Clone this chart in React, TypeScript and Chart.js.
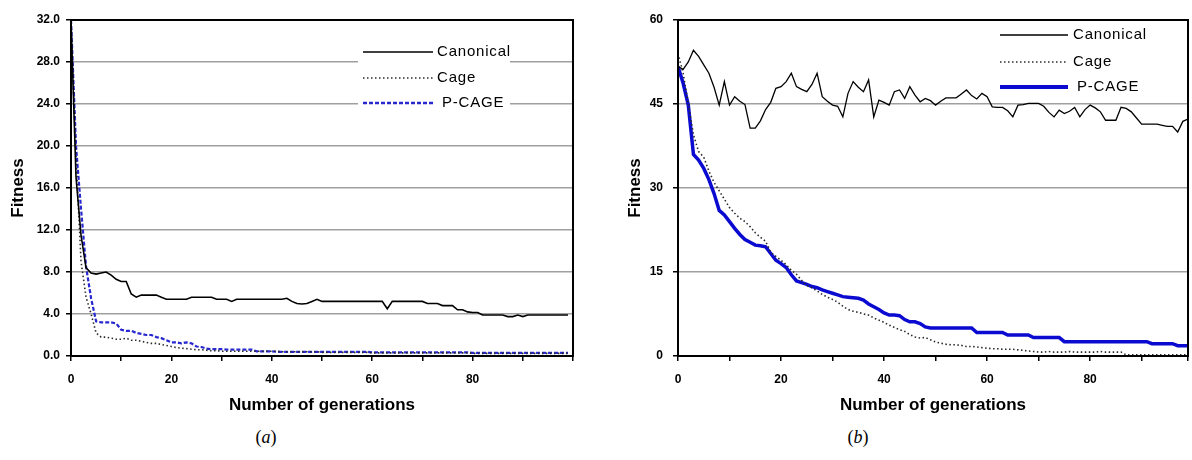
import React, { useEffect, useRef } from 'react';
import { Chart, registerables } from 'chart.js';

Chart.register(...registerables);

// ---------- data ----------
const generations = Array.from({ length: 100 }, (_, i) => i);
const seriesNames = ['Canonical', 'Cage', 'P-CAGE'];
const xTickLabels = [0, 20, 40, 60, 80];

// (a)
const yTicksA = [0, 4, 8, 12, 16, 20, 24, 28, 32];
const canonicalA = [
  32, 17, 11.5, 8.4, 7.9, 7.8, 7.9, 8.0, 7.7, 7.3,
  7.1, 7.1, 5.9, 5.6, 5.8, 5.8, 5.8, 5.8, 5.6, 5.4,
  5.4, 5.4, 5.4, 5.4, 5.6, 5.6, 5.6, 5.6, 5.6, 5.4,
  5.4, 5.4, 5.2, 5.4, 5.4, 5.4, 5.4, 5.4, 5.4, 5.4,
  5.4, 5.4, 5.4, 5.5, 5.2, 5.0, 4.95, 5.0, 5.2, 5.4,
  5.2, 5.2, 5.2, 5.2, 5.2, 5.2, 5.2, 5.2, 5.2, 5.2,
  5.2, 5.2, 5.2, 4.5, 5.2, 5.2, 5.2, 5.2, 5.2, 5.2,
  5.2, 5.0, 5.0, 5.0, 4.8, 4.8, 4.8, 4.4, 4.4, 4.2,
  4.15, 4.15, 3.9, 3.9, 3.9, 3.9, 3.9, 3.75, 3.75, 3.9,
  3.75, 3.9, 3.9, 3.9, 3.9, 3.9, 3.9, 3.9, 3.9, 3.9,
];
const cageA = [
  32, 19, 9.0, 5.6, 4.0, 2.2, 1.8, 1.8, 1.7, 1.6,
  1.6, 1.7, 1.5, 1.5, 1.4, 1.3, 1.2, 1.2, 1.1, 1.0,
  0.9, 0.8, 0.75, 0.7, 0.65, 0.6, 0.6, 0.55, 0.5, 0.5,
  0.45, 0.45, 0.45, 0.45, 0.45, 0.45, 0.45, 0.45, 0.45, 0.45,
  0.45, 0.45, 0.4, 0.4, 0.4, 0.4, 0.4, 0.4, 0.4, 0.4,
  0.35, 0.35, 0.35, 0.35, 0.35, 0.35, 0.35, 0.35, 0.35, 0.35,
  0.3, 0.3, 0.3, 0.3, 0.3, 0.3, 0.3, 0.3, 0.3, 0.3,
  0.3, 0.3, 0.3, 0.3, 0.3, 0.3, 0.3, 0.3, 0.3, 0.3,
  0.25, 0.25, 0.25, 0.25, 0.25, 0.25, 0.25, 0.25, 0.25, 0.25,
  0.25, 0.25, 0.25, 0.25, 0.25, 0.25, 0.25, 0.25, 0.25, 0.25,
];
const pcageA = [
  32, 20, 14, 8.5, 5.5, 3.3, 3.2, 3.2, 3.2, 3.1,
  2.5, 2.4, 2.4, 2.2, 2.1, 2.0, 2.0, 1.8, 1.7, 1.5,
  1.3, 1.3, 1.2, 1.3, 1.2, 0.9, 0.85, 0.7, 0.65, 0.65,
  0.65, 0.6, 0.6, 0.6, 0.6, 0.6, 0.6, 0.45, 0.45, 0.45,
  0.45, 0.4, 0.4, 0.4, 0.4, 0.4, 0.4, 0.4, 0.4, 0.4,
  0.4, 0.4, 0.4, 0.4, 0.4, 0.4, 0.4, 0.4, 0.4, 0.4,
  0.35, 0.35, 0.35, 0.35, 0.35, 0.35, 0.35, 0.35, 0.35, 0.35,
  0.35, 0.35, 0.35, 0.35, 0.35, 0.35, 0.35, 0.35, 0.35, 0.35,
  0.3, 0.3, 0.3, 0.3, 0.3, 0.3, 0.3, 0.3, 0.3, 0.3,
  0.3, 0.3, 0.3, 0.3, 0.3, 0.3, 0.3, 0.3, 0.3, 0.3,
];

// (b)
const yTicksB = [0, 15, 30, 45, 60];
const canonicalB = [
  51.7, 51.2, 52.5, 54.6, 53.5, 52.0, 50.5, 48.0, 44.8, 49.0,
  44.8, 46.3, 45.5, 44.9, 40.7, 40.7, 42.0, 44.0, 45.3, 47.8,
  48.1, 49.0, 50.5, 48.1, 47.6, 47.2, 48.5, 50.5, 46.3, 45.5,
  44.8, 44.6, 42.7, 46.9, 49.0, 48.0, 47.2, 49.3, 42.7, 45.7,
  45.3, 44.8, 47.2, 47.5, 46.0, 48.1, 46.6, 45.4, 46.0, 45.6,
  44.8, 45.5, 46.1, 46.1, 46.1, 46.8, 47.5, 46.5, 45.9, 46.9,
  46.3, 44.5, 44.4, 44.4, 43.8, 42.7, 44.8, 44.9, 45.1, 45.1,
  45.1, 44.6, 43.5, 42.7, 43.9, 43.3, 43.7, 44.4, 42.7, 44.0,
  44.8, 44.3, 43.6, 42.1, 42.1, 42.1, 44.4, 44.2, 43.6, 42.5,
  41.4, 41.4, 41.4, 41.4, 41.2, 41.0, 41.0, 40.0, 41.9, 42.3,
];
const cageB = [
  54.0, 50.5, 45.0, 39.5, 36.5, 35.5, 33.0, 31.0, 29.5, 28.0,
  26.5, 25.5, 24.6, 24.0, 23.1, 22.0, 21.2, 20.5, 18.5, 17.8,
  17.1, 16.3, 15.3, 14.6, 13.5, 12.6, 12.2, 11.6, 11.0, 10.5,
  10.1, 9.6, 8.9, 8.3, 8.0, 7.8, 7.5, 7.3, 6.8, 6.4,
  6.0, 5.5, 5.1, 4.7, 4.4, 3.8, 3.4, 3.2, 3.3, 2.9,
  2.5, 2.3, 2.1, 2.0, 2.0, 1.9, 1.7, 1.7, 1.6, 1.5,
  1.4, 1.3, 1.3, 1.2, 1.2, 1.2, 1.1, 1.0, 0.9, 0.8,
  0.7, 0.7, 0.8, 0.7, 0.7, 0.7, 0.8, 0.7, 0.7, 0.7,
  0.7, 0.7, 0.8, 0.7, 0.7, 0.7, 0.7, 0.2, 0.2, 0.2,
  0.2, 0.2, 0.2, 0.2, 0.2, 0.2, 0.2, 0.2, 0.2, 0.2,
];
const pcageB = [
  51.7, 48.7, 44.8, 36.0, 35.0, 33.5, 31.5, 29.0, 26.0, 25.2,
  24.0, 22.8, 21.7, 20.8, 20.3, 19.8, 19.7, 19.5, 18.3, 17.1,
  16.5, 15.8, 14.5, 13.4, 13.1, 12.8, 12.4, 12.2, 11.8, 11.5,
  11.2, 10.9, 10.6, 10.5, 10.4, 10.3, 10.0, 9.3, 8.8, 8.3,
  7.7, 7.3, 7.3, 7.2, 6.5, 6.1, 6.1, 5.8, 5.2, 5.0,
  5.0, 5.0, 5.0, 5.0, 5.0, 5.0, 5.0, 5.0, 4.2, 4.2,
  4.2, 4.2, 4.2, 4.2, 3.75, 3.75, 3.75, 3.75, 3.75, 3.3,
  3.3, 3.3, 3.3, 3.3, 3.3, 2.55, 2.55, 2.55, 2.55, 2.55,
  2.55, 2.55, 2.55, 2.55, 2.55, 2.55, 2.55, 2.55, 2.55, 2.55,
  2.55, 2.55, 2.2, 2.2, 2.2, 2.2, 2.2, 1.85, 1.85, 1.85,
];

// ---------- plugins ----------
const framePlugin = {
  id: 'frame',
  afterDatasetsDraw(chart: any) {
    const { ctx, chartArea: a } = chart;
    ctx.save();
    ctx.strokeStyle = '#000';
    ctx.lineWidth = 2;
    ctx.strokeRect(a.left, a.top, a.right - a.left, a.bottom - a.top);
    ctx.restore();
  },
};

const insetLegendPlugin = {
  id: 'insetLegend',
  afterDraw(chart: any) {
    const o = chart.options.plugins.insetLegend;
    if (!o) return;
    const { ctx } = chart;
    ctx.save();
    ctx.fillStyle = '#fff';
    ctx.fillRect(o.box[0], o.box[1], o.box[2], o.box[3]);
    chart.data.datasets.forEach((ds: any, i: number) => {
      const y = o.rows[i];
      ctx.save();
      ctx.strokeStyle = ds.borderColor;
      ctx.lineWidth = ds.legendWidth ?? ds.borderWidth;
      ctx.setLineDash(ds.borderDash || []);
      ctx.beginPath();
      ctx.moveTo(o.sample[0], y);
      ctx.lineTo(o.sample[1], y);
      ctx.stroke();
      ctx.restore();
      ctx.fillStyle = '#000';
      ctx.font = o.font;
      (ctx as any).letterSpacing = '0.8px';
      ctx.textBaseline = 'middle';
      ctx.textAlign = 'left';
      ctx.fillText(ds.label, o.textX[i], y);
    });
    ctx.restore();
  },
};

// ---------- chart ----------
type PanelProps = {
  width: number;
  height: number;
  canonical: number[];
  cage: number[];
  pcage: number[];
  yTicks: number[];
  decimals: number;
  xMax: number;
  yAxisWidth: number;
  yTitlePad: number;
  yTickPad: number;
  rightPad: number;
  styleB: boolean;
  legend: any;
};

function Panel(p: PanelProps) {
  const ref = useRef<HTMLCanvasElement | null>(null);
  useEffect(() => {
    if (!ref.current) return;
    const tickFont = { family: 'Liberation Sans', size: 12, weight: 'bold' as const };
    const titleFont = { family: 'Liberation Sans', size: 17, weight: 'bold' as const };
    const mk = (vals: number[]) => vals.map((v, i) => ({ x: generations[i], y: v }));
    const chart = new Chart(ref.current, {
      type: 'line',
      data: {
        datasets: [
          {
            label: seriesNames[0],
            data: mk(p.canonical),
            borderColor: '#000',
            borderWidth: p.styleB ? 1.3 : 1.6,
            pointRadius: 0,
            tension: 0,
          },
          {
            label: seriesNames[1],
            data: mk(p.cage),
            borderColor: '#2a2a2a',
            borderWidth: 1.6,
            borderDash: [1.5, 2.5],
            pointRadius: 0,
            tension: 0,
          },
          {
            label: seriesNames[2],
            data: mk(p.pcage),
            borderColor: p.styleB ? '#0a0ad0' : '#2828d0',
            borderWidth: p.styleB ? 3.5 : 2.2,
            borderDash: p.styleB ? [] : [4, 2],
            legendWidth: p.styleB ? 4 : 2.5,
            pointRadius: 0,
            tension: 0,
          } as any,
        ],
      },
      options: {
        responsive: false,
        animation: false,
        events: [],
        layout: { padding: { top: 20, right: p.rightPad, left: 0, bottom: 0 } },
        plugins: {
          legend: { display: false },
          tooltip: { enabled: false },
          insetLegend: p.legend,
        } as any,
        scales: {
          x: {
            type: 'linear',
            min: 0,
            max: p.xMax,
            afterFit: (s: any) => {
              s.height = p.height - 356;
              s.paddingLeft = 0;
              s.paddingRight = 0;
            },
            border: { display: true, color: '#000', width: 2 },
            grid: { drawOnChartArea: false, drawTicks: true, tickLength: 5, tickColor: '#000', lineWidth: 1.5 },
            ticks: {
              stepSize: 10,
              autoSkip: false,
              maxRotation: 0,
              padding: 11,
              color: '#000',
              font: tickFont,
              callback: (v: any) => (xTickLabels.includes(Number(v)) ? String(v) : ''),
            },
            title: {
              display: true,
              text: 'Number of generations',
              color: '#000',
              font: titleFont,
              padding: { top: 0, bottom: 4 },
            },
          },
          y: {
            type: 'linear',
            min: 0,
            max: p.yTicks[p.yTicks.length - 1],
            afterFit: (s: any) => {
              s.width = p.yAxisWidth;
              s.paddingTop = 0;
              s.paddingBottom = 0;
            },
            afterBuildTicks: (s: any) => { s.ticks = p.yTicks.map((v) => ({ value: v })); },
            border: { display: true, color: '#000', width: 2 },
            grid: { color: '#a0a0a0', lineWidth: 1.5, drawTicks: true, tickLength: 5, tickColor: '#000' },
            ticks: {
              padding: p.yTickPad,
              color: '#000',
              font: tickFont,
              callback: (v: any) => Number(v).toFixed(p.decimals),
            },
            title: {
              display: true,
              text: 'Fitness',
              color: '#000',
              font: titleFont,
              padding: { top: p.yTitlePad, bottom: 0 },
            },
          },
        },
      } as any,
      plugins: [framePlugin, insetLegendPlugin],
    });
    return () => chart.destroy();
  }, []);
  return <canvas ref={ref} width={p.width} height={p.height} style={{ width: p.width, height: p.height, display: 'block' }} />;
}

const captionStyle: React.CSSProperties = {
  position: 'absolute',
  top: 427,
  fontFamily: "'Liberation Serif', 'DejaVu Serif', serif",
  fontSize: 18,
  color: '#000',
  width: 40,
  textAlign: 'center',
};

export default function App() {
  return (
    <div style={{ position: 'absolute', left: 0, top: 0, width: 1192, height: 460, background: '#fff', overflow: 'hidden' }}>
      <div style={{ position: 'absolute', left: 0, top: 0 }}>
        <Panel
          width={590}
          height={420}
          canonical={canonicalA}
          cage={cageA}
          pcage={pcageA}
          yTicks={yTicksA}
          decimals={1}
          xMax={100}
          yAxisWidth={71}
          yTitlePad={8}
          yTickPad={6}
          rightPad={17}
          styleB={false}
          legend={{
            box: [358, 40, 152, 80],
            rows: [52, 78, 103],
            sample: [363, 433],
            textX: [437, 437, 442],
            font: "15px 'Liberation Sans'",
          }}
        />
      </div>
      <div style={{ position: 'absolute', left: 600, top: 0 }}>
        <Panel
          width={592}
          height={420}
          canonical={canonicalB}
          cage={cageB}
          pcage={pcageB}
          yTicks={yTicksB}
          decimals={0}
          xMax={99}
          yAxisWidth={78}
          yTitlePad={25}
          yTickPad={10}
          rightPad={4}
          styleB={true}
          legend={{
            box: [395, 24, 155, 74],
            rows: [35, 62, 87],
            sample: [400, 468],
            textX: [473, 473, 477],
            font: "15px 'Liberation Sans'",
          }}
        />
      </div>
      <div style={{ ...captionStyle, left: 246 }}>(<i>a</i>)</div>
      <div style={{ ...captionStyle, left: 838 }}>(<i>b</i>)</div>
    </div>
  );
}
